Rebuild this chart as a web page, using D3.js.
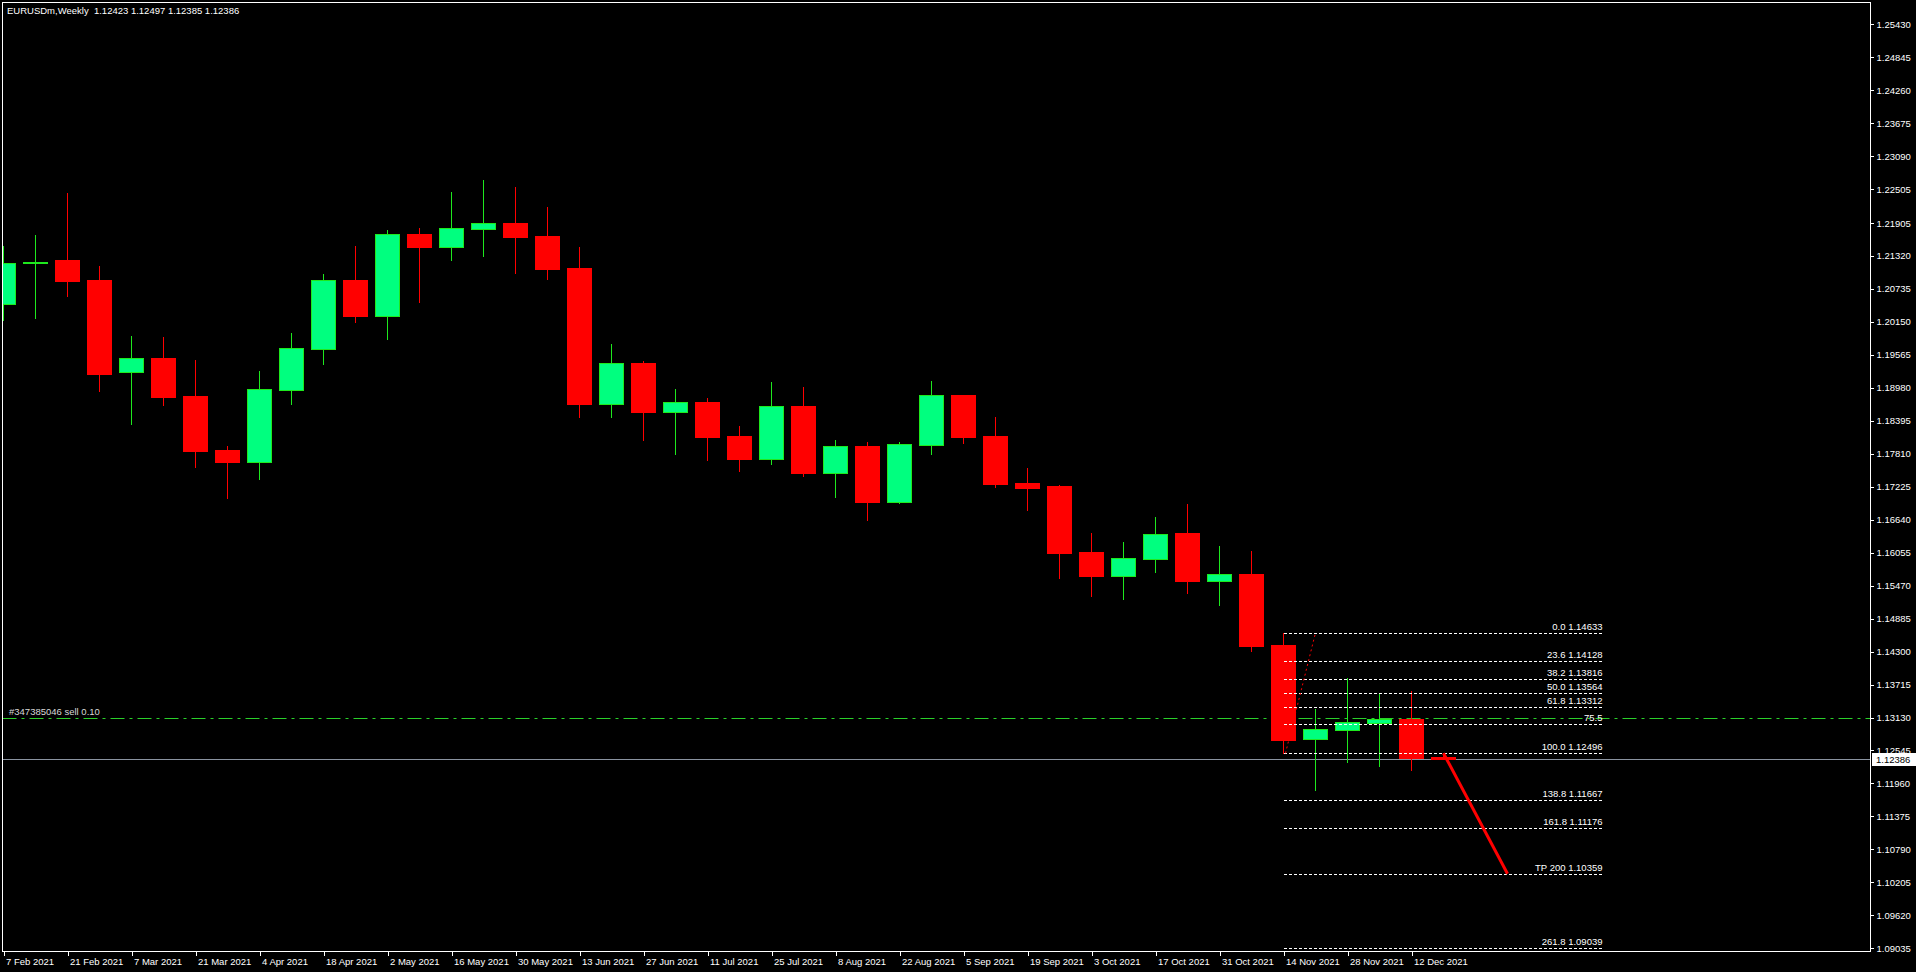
<!DOCTYPE html>
<html>
<head>
<meta charset="utf-8">
<script src="https://cdn.jsdelivr.net/npm/d3@7/dist/d3.min.js"></script>
<style>
html,body{margin:0;padding:0;background:#000;overflow:hidden;}
svg{display:block;}
text{font-family:"Liberation Sans",Arial,sans-serif;font-size:9.5px;fill:#fff;white-space:pre;}
</style>
</head>
<body>
<script>
// ---------- data ----------
const title = "EURUSDm,Weekly  1.12423 1.12497 1.12385 1.12386";
const dateLabels = ["7 Feb 2021","21 Feb 2021","7 Mar 2021","21 Mar 2021","4 Apr 2021","18 Apr 2021","2 May 2021","16 May 2021","30 May 2021","13 Jun 2021","27 Jun 2021","11 Jul 2021","25 Jul 2021","8 Aug 2021","22 Aug 2021","5 Sep 2021","19 Sep 2021","3 Oct 2021","17 Oct 2021","31 Oct 2021","14 Nov 2021","28 Nov 2021","12 Dec 2021"];
const dateLabelIdx = [0,2,4,6,8,10,12,14,16,18,20,22,24,26,28,30,32,34,36,38,40,42,44];
const opens  = [1.20472,1.21195,1.21248,1.20893,1.19255,1.19509,1.18835,1.17877,1.17669,1.18947,1.19674,1.20893,1.20260,1.21709,1.21484,1.21803,1.21899,1.21673,1.21106,1.18698,1.19415,1.18556,1.18728,1.18125,1.17722,1.18652,1.17474,1.17948,1.16959,1.17971,1.18853,1.18125,1.17291,1.17238,1.16067,1.15641,1.15943,1.16404,1.15552,1.15677,1.14417,1.12754,1.12914,1.13038,1.13104,1.12423];
const highs  = [1.21496,1.21692,1.22437,1.21141,1.19899,1.19882,1.19474,1.17948,1.19278,1.19953,1.21000,1.21496,1.21780,1.21816,1.22454,1.22667,1.22543,1.22188,1.21479,1.19758,1.19456,1.18959,1.18794,1.18303,1.19083,1.18995,1.18054,1.18019,1.18019,1.19101,1.18853,1.18462,1.17557,1.17256,1.16404,1.16244,1.16688,1.16919,1.16174,1.16085,1.14633,1.13281,1.13826,1.13560,1.13601,1.12497];
const lows   = [1.20183,1.20224,1.20615,1.18929,1.18338,1.18675,1.17575,1.17030,1.17362,1.18698,1.19408,1.20153,1.19846,1.20503,1.21253,1.21324,1.21023,1.20916,1.18468,1.18468,1.18059,1.17811,1.17705,1.17504,1.17634,1.17421,1.17048,1.16640,1.16942,1.17811,1.18006,1.17220,1.16812,1.15606,1.15286,1.15233,1.15712,1.15340,1.15127,1.14310,1.12496,1.11844,1.12346,1.12275,1.12204,1.12385];
const closes = [1.21189,1.21215,1.20881,1.19231,1.19504,1.18817,1.17859,1.17669,1.18959,1.19681,1.20888,1.20260,1.21709,1.21479,1.21810,1.21899,1.21661,1.21094,1.18698,1.19415,1.18556,1.18723,1.18113,1.17717,1.18652,1.17469,1.17942,1.16959,1.17978,1.18853,1.18107,1.17279,1.17208,1.16055,1.15641,1.15960,1.16386,1.15552,1.15677,1.14399,1.12737,1.12926,1.13045,1.13104,1.12417,1.12386];
const priceTicks = [1.25430,1.24845,1.24260,1.23675,1.23090,1.22505,1.21905,1.21320,1.20735,1.20150,1.19565,1.18980,1.18395,1.17810,1.17225,1.16640,1.16055,1.15470,1.14885,1.14300,1.13715,1.13130,1.12545,1.11960,1.11375,1.10790,1.10205,1.09620,1.09035];
const fibPrices = [1.14633,1.14128,1.13816,1.13564,1.13312,1.13020,1.12496,1.11667,1.11176,1.10359,1.09039];
const fibTexts  = ["0.0 1.14633","23.6 1.14128","38.2 1.13816","50.0 1.13564","61.8 1.13312","75.5","100.0 1.12496","138.8 1.11667","161.8 1.11176","TP 200 1.10359","261.8 1.09039"];
const fibStartIdx = 40, fibEndIdx = 50;
const fibAnchorIdx = [40, 41];
const fibAnchorPrice = [1.12496, 1.14633];
const tpLineIdx = [45, 47];
const tpLinePrice = [1.12497, 1.10359];
const orderPrice = 1.13122;
const orderText = "#347385046 sell 0.10";
const bidPrice = 1.12386;
const bidText = "1.12386";

// ---------- layout ----------
const W = 1916, H = 972;
const plot = {l: 2.5, t: 2.5, r: 1870.5, b: 951.5};
const FONT = "'Liberation Sans',Arial,sans-serif";

const svg = d3.select("body").append("svg").attr("width", W).attr("height", H)
  .style("background", "#000");

const x = d3.scaleLinear().domain([0, 1]).range([3.5, 35.5]);
const y = d3.scaleLinear().domain([1.09035, 1.25430]).range([948.3, 24.3]);
const ry = v => Math.round(y(v));

svg.append("defs").append("clipPath").attr("id", "clip")
  .append("rect").attr("x", plot.l + 0.5).attr("y", plot.t + 0.5)
  .attr("width", plot.r - plot.l - 1).attr("height", plot.b - plot.t - 1);

const g = svg.append("g").attr("clip-path", "url(#clip)");

// bid line
g.append("line").attr("x1", plot.l).attr("x2", plot.r)
  .attr("y1", ry(bidPrice) + 0.5).attr("y2", ry(bidPrice) + 0.5)
  .attr("stroke", "#8a93a0").attr("stroke-width", 1);

// order line
g.append("line").attr("x1", plot.l).attr("x2", plot.r)
  .attr("y1", ry(orderPrice) + 0.5).attr("y2", ry(orderPrice) + 0.5)
  .attr("stroke", "#2ad02a").attr("stroke-width", 1)
  .attr("stroke-dasharray", "14,5,3,5");
g.append("text").attr("x", 9).attr("y", ry(orderPrice) - 3)
  .style("fill", "#d8d8d8").text(orderText);

// candles
const idx = d3.range(opens.length);
const cg = g.append("g").attr("shape-rendering", "crispEdges");
idx.forEach(i => {
  const up = closes[i] >= opens[i];
  const cx = x(i);
  const wickCol = up ? "#1ee81e" : "#ff0000";
  cg.append("line").attr("x1", cx).attr("x2", cx)
    .attr("y1", ry(highs[i])).attr("y2", ry(lows[i]) + 1)
    .attr("stroke", wickCol).attr("stroke-width", 1);
  const yt = ry(Math.max(opens[i], closes[i]));
  const yb = ry(Math.min(opens[i], closes[i]));
  if (up) {
    cg.append("rect").attr("x", cx - 12).attr("width", 24)
      .attr("y", yt + 0.5).attr("height", Math.max(yb - yt, 1))
      .attr("fill", "#00ff7f").attr("stroke", "#1ee81e").attr("stroke-width", 1);
  } else {
    cg.append("rect").attr("x", cx - 12.5).attr("width", 25)
      .attr("y", yt).attr("height", Math.max(yb - yt + 1, 2))
      .attr("fill", "#ff0000");
  }
});

// fibonacci levels
const fg = g.append("g");
fibPrices.forEach((p, k) => {
  fg.append("line").attr("x1", x(fibStartIdx)).attr("x2", x(fibEndIdx) - 1)
    .attr("y1", ry(p) + 0.5).attr("y2", ry(p) + 0.5)
    .attr("stroke", "#ffffff").attr("stroke-width", 1)
    .attr("stroke-dasharray", "3,2").attr("shape-rendering", "crispEdges");
  fg.append("text").attr("x", x(fibEndIdx) - 1).attr("y", ry(p) - 3)
    .attr("text-anchor", "end").text(fibTexts[k]);
});
fg.append("line")
  .attr("x1", x(fibAnchorIdx[0]) + 2).attr("y1", y(fibAnchorPrice[0]))
  .attr("x2", x(fibAnchorIdx[1])).attr("y2", y(fibAnchorPrice[1]))
  .attr("stroke", "#ff0000").attr("stroke-width", 1).attr("stroke-dasharray", "2,3");

// TP trend line
g.append("line")
  .attr("x1", x(tpLineIdx[0])).attr("y1", y(tpLinePrice[0]))
  .attr("x2", x(tpLineIdx[1])).attr("y2", y(tpLinePrice[1]))
  .attr("stroke", "#ff0000").attr("stroke-width", 3);

// frame
svg.append("rect").attr("x", plot.l).attr("y", plot.t)
  .attr("width", plot.r - plot.l).attr("height", plot.b - plot.t)
  .attr("fill", "none").attr("stroke", "#fff").attr("stroke-width", 1)
  .attr("shape-rendering", "crispEdges");

// y axis
const yAxis = d3.axisRight(y).tickValues(priceTicks).tickSize(3).tickPadding(3)
  .tickFormat(d3.format(".5f"));
const ya = svg.append("g").attr("transform", `translate(${plot.r},0)`).call(yAxis);
ya.select(".domain").remove();
ya.attr("font-size", null).attr("font-family", null);
ya.selectAll(".tick line").attr("stroke", "#fff").attr("shape-rendering", "crispEdges");
ya.selectAll(".tick text").attr("fill", "#fff").style("font-family", FONT).style("font-size", "9.5px");

// x axis
const xAxis = d3.axisBottom(x).tickValues(dateLabelIdx).tickSize(4).tickPadding(3)
  .tickFormat((d, k) => dateLabels[k]);
const xa = svg.append("g").attr("transform", `translate(0,${plot.b})`).call(xAxis);
xa.select(".domain").remove();
xa.attr("font-size", null).attr("font-family", null);
xa.selectAll(".tick line").attr("stroke", "#fff").attr("shape-rendering", "crispEdges");
xa.selectAll(".tick text").attr("fill", "#fff").attr("text-anchor", "start").attr("x", 2)
  .style("font-family", FONT).style("font-size", "9.5px");

// bid label
const by = ry(bidPrice);
svg.append("rect").attr("x", plot.r + 1).attr("y", by - 6).attr("width", 44).attr("height", 13)
  .attr("fill", "#fff").attr("shape-rendering", "crispEdges");
svg.append("text").attr("x", plot.r + 5.5).attr("y", by + 4).style("fill", "#000").text(bidText);

// title
svg.append("text").attr("x", 7).attr("y", 14).text(title);
</script>
</body>
</html>
